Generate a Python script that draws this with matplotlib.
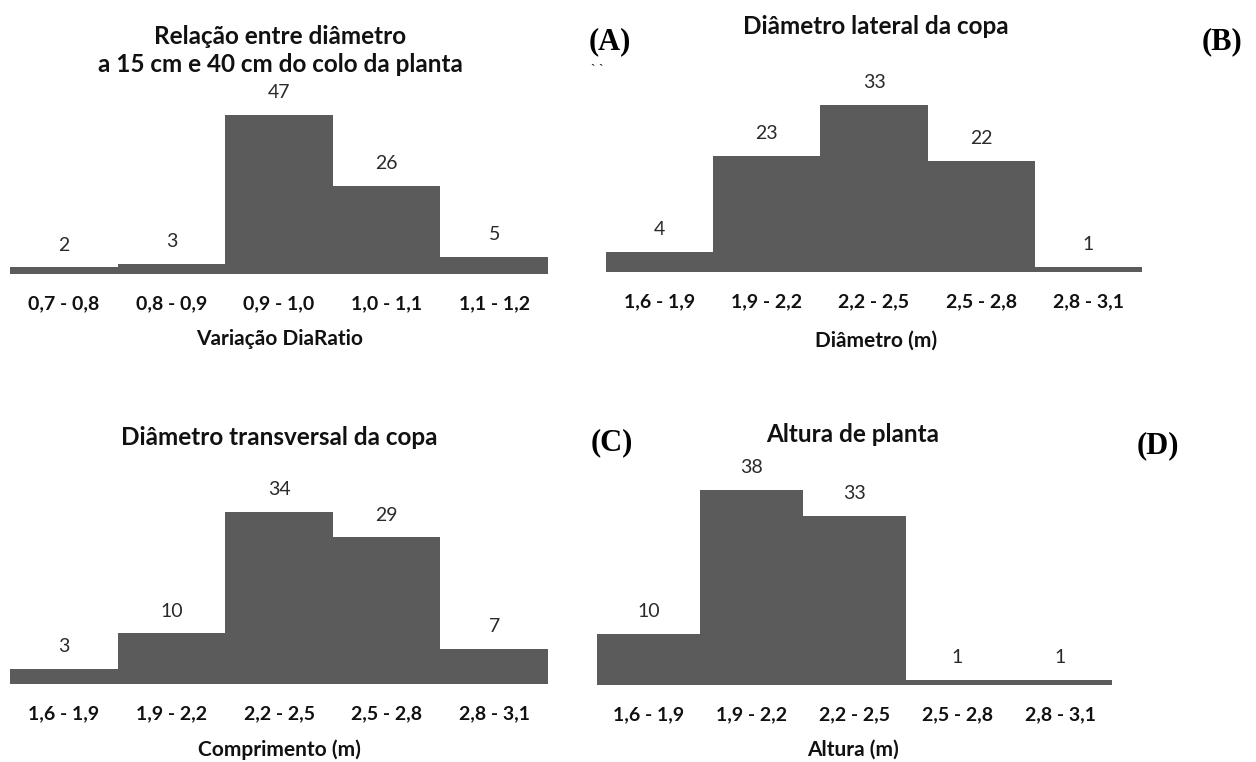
import matplotlib
matplotlib.use("Agg")
import matplotlib.pyplot as plt

# --- data -----------------------------------------------------------------
dia_ratio_classes = ["0,7 - 0,8", "0,8 - 0,9", "0,9 - 1,0", "1,0 - 1,1", "1,1 - 1,2"]
dia_ratio_counts = [2, 3, 47, 26, 5]

size_classes = ["1,6 - 1,9", "1,9 - 2,2", "2,2 - 2,5", "2,5 - 2,8", "2,8 - 3,1"]
lateral_counts = [4, 23, 33, 22, 1]
transversal_counts = [3, 10, 34, 29, 7]
height_counts = [10, 38, 33, 1, 1]

panel_titles = [
    "Relação entre diâmetro\na 15 cm e 40 cm do colo da planta",
    "Diâmetro lateral da copa",
    "Diâmetro transversal da copa",
    "Altura de planta",
]
axis_labels = ["Variação DiaRatio", "Diâmetro (m)", "Comprimento (m)", "Altura (m)"]
panel_tags = ["(A)", "(B)", "(C)", "(D)"]

# --- figure ---------------------------------------------------------------
W, H = 1256, 762
fig = plt.figure(figsize=(W / 100, H / 100), dpi=100)
fig.patch.set_facecolor("white")

SANS = ["Lato", "DejaVu Sans"]
SERIF = ["Liberation Serif", "DejaVu Serif"]
BAR = "#5b5b5b"
INK = "#111111"


def fx(x):
    return x / W


def fy(y):
    return 1 - y / H


def panel(box, cats, counts, ymax):
    left, right, top, base = box
    ax = fig.add_axes([fx(left), fy(base), fx(right - left), (base - top) / H])
    pos = list(range(len(cats)))
    ax.bar(pos, counts, width=1.0, color=BAR, linewidth=0)
    ax.set_xlim(-0.5, len(cats) - 0.5)
    ax.set_ylim(0, ymax)
    for s in ax.spines.values():
        s.set_visible(False)
    ax.set_yticks([])
    ax.set_xticks(pos)
    ax.set_xticklabels(cats, fontfamily=SANS, fontweight="bold", fontsize=14,
                       color=INK)
    ax.tick_params(axis="x", length=0, pad=15.5)
    for p, v in zip(pos, counts):
        ax.annotate(str(v), (p, v), xytext=(0, 16), textcoords="offset points",
                    ha="center", va="center", fontfamily=SANS, fontsize=14,
                    color="#2a2a2a", annotation_clip=False)
    return ax


# boxes: left, right, top of tallest bar, baseline (pixels)
panel((10, 548, 115, 274), dia_ratio_classes, dia_ratio_counts, 47)
panel((606, 1142, 105, 272), size_classes, lateral_counts, 33)
panel((10, 548, 512, 684), size_classes, transversal_counts, 34)
panel((597, 1112, 490, 685), size_classes, height_counts, 38)

# axis titles under the category labels
xlab_kw = dict(fontfamily=SANS, fontweight="bold", fontsize=15, color=INK,
               ha="center", va="center")
fig.text(fx(280), fy(339), axis_labels[0], **xlab_kw)
fig.text(fx(876), fy(341), axis_labels[1], **xlab_kw)
fig.text(fx(279), fy(750), axis_labels[2], **xlab_kw)
fig.text(fx(853), fy(750), axis_labels[3], **xlab_kw)

# panel titles, one text per line
title_kw = dict(fontfamily=SANS, fontweight="bold", fontsize=17.5, color=INK,
                ha="center", va="center")
title_pos = [(280, [37, 64]), (876, [27]), (279, [437]), (853, [435])]
for title, (cx, ys) in zip(panel_titles, title_pos):
    for line, y in zip(title.split("\n"), ys):
        fig.text(fx(cx), fy(y), line, **title_kw)

# panel tags
tag_kw = dict(fontfamily=SERIF, fontweight="bold", fontsize=22, color="#000000",
              ha="center", va="center")
fig.text(fx(610), fy(42), panel_tags[0], **tag_kw)
fig.text(fx(1222), fy(42), panel_tags[1], **tag_kw)
fig.text(fx(612), fy(443), panel_tags[2], **tag_kw)
fig.text(fx(1158), fy(446), panel_tags[3], **tag_kw)
fig.text(fx(597), fy(70), "` `", fontfamily=SERIF, fontsize=10, color="#000000",
         ha="center", va="center")

fig.savefig("out.png", dpi=100, facecolor="white")
